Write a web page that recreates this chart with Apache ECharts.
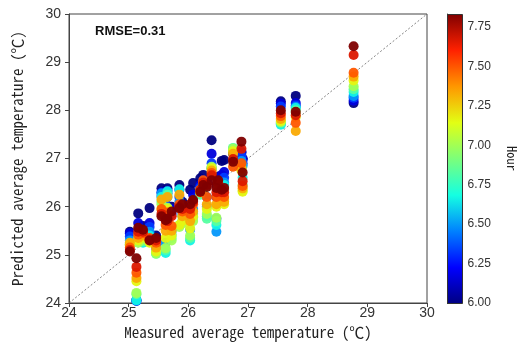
<!DOCTYPE html>
<html>
<head>
<meta charset="utf-8">
<script src="https://cdn.jsdelivr.net/npm/echarts@6/dist/echarts.min.js"></script>
<style>
html,body{margin:0;padding:0;background:#fff;}
#chart{width:519px;height:349px;}
</style>
</head>
<body>
<div id="chart"></div>
<script>
// ---- data ----
var hours = [6.0, 6.1667, 6.3333, 6.5, 6.6667, 6.8333, 7.0, 7.1667, 7.3333, 7.5, 7.6667, 7.8333];
var measured = [25.02, 25.13, 25.16, 25.24, 25.35, 25.46, 25.55, 25.62, 25.65, 25.72, 25.85, 25.90, 26.03, 26.08, 26.20, 26.25, 26.31, 26.39, 26.47, 26.50, 26.56, 26.60, 26.75, 26.89, 26.91, 27.55, 27.80, 28.77];
// predicted values per site, one value per hour (6:00 ... 7:50)
var predicted = [
  [25.48, 25.45, 25.38, 25.30, 25.25, 25.22, 25.20, 25.22, 25.25, 25.15, 25.10, 25.07],
  [24.05, 24.05, 24.05, 24.05, 24.06, 24.18, 24.21, 24.45, 24.52, 24.63, 24.75, 24.93],
  [25.86, 25.66, 25.50, 25.42, 25.35, 25.28, 25.25, 25.30, 25.35, 25.42, 25.48, 25.56],
  [25.60, 25.50, 25.42, 25.38, 25.25, 25.28, 25.32, 25.36, 25.40, 25.45, 25.48, 25.52],
  [25.97, 25.66, 25.58, 25.48, 25.40, 25.32, 25.28, 25.25, 25.30, 25.35, 25.32, 25.30],
  [25.40, 25.30, 25.20, 25.12, 25.05, 25.02, 25.03, 25.07, 25.15, 25.25, 25.30, 25.35],
  [26.38, 26.30, 26.22, 26.28, 26.20, 26.10, 26.05, 25.95, 26.15, 25.95, 25.85, 25.80],
  [26.30, 26.25, 26.15, 25.25, 25.04, 25.10, 25.14, 25.35, 25.50, 25.62, 25.75, 25.72],
  [26.38, 26.33, 26.28, 26.20, 26.32, 26.25, 25.98, 25.95, 26.20, 25.88, 25.70, 25.75],
  [26.00, 25.95, 25.85, 25.50, 25.42, 25.35, 25.30, 25.40, 25.50, 25.60, 25.80, 25.90],
  [26.45, 26.35, 26.20, 26.10, 26.36, 25.62, 25.58, 25.62, 26.25, 26.05, 26.00, 25.97],
  [26.10, 26.00, 25.95, 25.85, 25.80, 25.70, 25.65, 25.70, 25.80, 25.90, 25.95, 26.05],
  [26.35, 26.00, 25.80, 25.52, 25.30, 25.35, 25.40, 25.55, 25.70, 25.85, 25.95, 26.05],
  [26.49, 26.25, 26.10, 25.95, 25.85, 25.78, 25.70, 25.80, 25.90, 26.05, 26.10, 26.14],
  [26.59, 26.45, 26.40, 26.35, 26.30, 26.25, 26.30, 26.30, 26.35, 26.30, 26.35, 26.31],
  [26.66, 26.55, 26.50, 26.45, 26.40, 26.35, 26.40, 26.45, 26.50, 26.55, 26.50, 26.45],
  [26.55, 26.50, 26.20, 26.00, 25.80, 25.75, 25.85, 25.95, 26.05, 26.20, 26.45, 26.41],
  [27.38, 27.10, 26.90, 26.80, 26.78, 26.80, 26.83, 26.80, 26.75, 26.70, 26.65, 26.55],
  [26.45, 26.20, 25.75, 25.48, 25.62, 25.70, 25.77, 26.00, 26.05, 26.20, 26.30, 26.39],
  [26.62, 26.55, 26.50, 26.40, 26.30, 26.25, 26.20, 26.25, 26.35, 26.45, 26.50, 26.55],
  [26.95, 26.66, 26.49, 26.50, 26.40, 26.30, 26.25, 26.20, 26.18, 26.25, 26.30, 26.35],
  [26.97, 26.72, 26.60, 26.50, 26.45, 26.35, 26.15, 26.05, 26.10, 26.20, 26.30, 26.39],
  [27.10, 27.12, 27.15, 27.18, 27.20, 27.22, 27.20, 27.15, 27.10, 26.83, 26.99, 26.93],
  [27.12, 27.14, 27.05, 26.95, 26.87, 26.82, 26.78, 26.75, 26.80, 26.90, 27.20, 27.35],
  [27.00, 26.98, 26.90, 26.85, 26.60, 26.45, 26.33, 26.31, 26.38, 26.43, 26.53, 26.71],
  [28.19, 28.14, 28.08, 27.72, 27.70, 27.74, 27.76, 27.78, 27.82, 27.88, 27.94, 28.00],
  [28.30, 28.15, 28.10, 28.07, 28.05, 28.00, 27.95, 27.86, 27.57, 27.74, 27.90, 27.97],
  [28.15, 28.20, 28.26, 28.30, 28.38, 28.44, 28.50, 28.62, 28.70, 28.78, 29.15, 29.33]
];
var diagonal = [[24, 24], [30, 30]];
var axisTicks = [24, 25, 26, 27, 28, 29, 30];
var hourTicks = [6.00, 6.25, 6.50, 6.75, 7.00, 7.25, 7.50, 7.75];
var rmseText = 'RMSE=0.31';
var xTitle = 'Measured average temperature (℃)';
var yTitle = 'Predicted average temperature (℃)';
var cbarTitle = 'Hour';

// ---- build ----
var points = [];
for (var h = 0; h < hours.length; h++) {
  for (var s = 0; s < measured.length; s++) {
    points.push([measured[s], predicted[s][h], hours[h]]);
  }
}
var jet = ['#000080', '#0000ff', '#0080ff', '#14ffe2', '#7bff7b', '#e2ff14', '#ff9700', '#ff2100', '#800000'];
var jetStops = jet.map(function (c, i) { return {offset: 1 - i / (jet.length - 1), color: c}; });
var sans = "'Liberation Sans', Arial, sans-serif";
var mono = "'Noto Sans Mono CJK JP', 'DejaVu Sans Mono', monospace";
var axisCol = '#444';

var chart = echarts.init(document.getElementById('chart'), null, {renderer: 'canvas'});
var option = {
  animation: false,
  backgroundColor: '#fff',
  grid: [
    {left: 69, top: 14, width: 358, height: 289, show: true, borderColor: axisCol, borderWidth: 1, backgroundColor: 'transparent'},
    {left: 447, top: 14, width: 15, height: 289, show: false}
  ],
  xAxis: [
    {
      type: 'value', gridIndex: 0, min: axisTicks[0], max: axisTicks[axisTicks.length - 1], interval: 1,
      name: xTitle, nameLocation: 'middle', nameGap: 22,
      nameTextStyle: {fontFamily: mono, fontSize: 15, color: '#222'},
      axisLine: {show: true, onZero: false, lineStyle: {color: axisCol}},
      axisTick: {show: true, inside: false, length: 4, lineStyle: {color: axisCol}},
      axisLabel: {fontFamily: sans, fontSize: 14, color: '#333', margin: 3},
      splitLine: {show: false}
    },
    {
      type: 'value', gridIndex: 1, min: 0, max: 1, show: false
    }
  ],
  yAxis: [
    {
      type: 'value', gridIndex: 0, min: axisTicks[0], max: axisTicks[axisTicks.length - 1], interval: 1,
      name: yTitle, nameLocation: 'middle', nameGap: 44, nameRotate: 90,
      nameTextStyle: {fontFamily: mono, fontSize: 15, color: '#222'},
      axisLine: {show: true, onZero: false, lineStyle: {color: axisCol}},
      axisTick: {show: true, inside: false, length: 4, lineStyle: {color: axisCol}},
      axisLabel: {fontFamily: sans, fontSize: 14, color: '#333', margin: 8},
      splitLine: {show: false}
    },
    {
      type: 'value', gridIndex: 1, position: 'right', min: hours[0], max: hours[hours.length - 1], interval: 0.25,
      name: cbarTitle, nameLocation: 'middle', nameGap: 52, nameRotate: -90,
      nameTextStyle: {fontFamily: mono, fontSize: 12.5, color: '#222'},
      axisLine: {show: true, lineStyle: {color: axisCol}},
      axisTick: {show: true, inside: false, length: 4, lineStyle: {color: axisCol}},
      axisLabel: {fontFamily: sans, fontSize: 12, color: '#333', margin: 14, showMaxLabel: false,
        formatter: function (v) { return hourTicks.indexOf(Math.round(v * 100) / 100) >= 0 ? v.toFixed(2) : ''; }},
      splitLine: {show: false}
    }
  ],
  visualMap: {
    type: 'continuous', show: false, dimension: 2, seriesIndex: 1,
    min: hours[0], max: hours[hours.length - 1],
    inRange: {color: jet}
  },
  graphic: [
    {type: 'text', left: 95, top: 25, style: {text: rmseText, font: "bold 13px 'Liberation Sans', Arial, sans-serif", fill: '#111'}},
    {type: 'rect', left: 447, top: 14, shape: {width: 15, height: 289},
      style: {fill: new echarts.graphic.LinearGradient(0, 0, 0, 1, jetStops.slice().reverse()), stroke: '#333', lineWidth: 1}, z: 100}
  ],
  series: [
    {
      type: 'line', xAxisIndex: 0, yAxisIndex: 0, data: diagonal, symbol: 'none', silent: true, z: 1,
      lineStyle: {color: '#666', width: 0.8, type: [2, 2]}
    },
    {
      type: 'scatter', xAxisIndex: 0, yAxisIndex: 0, data: points, symbolSize: 10, z: 2,
      itemStyle: {opacity: 0.95}
    }
  ]
};
chart.setOption(option);
</script>
</body>
</html>
